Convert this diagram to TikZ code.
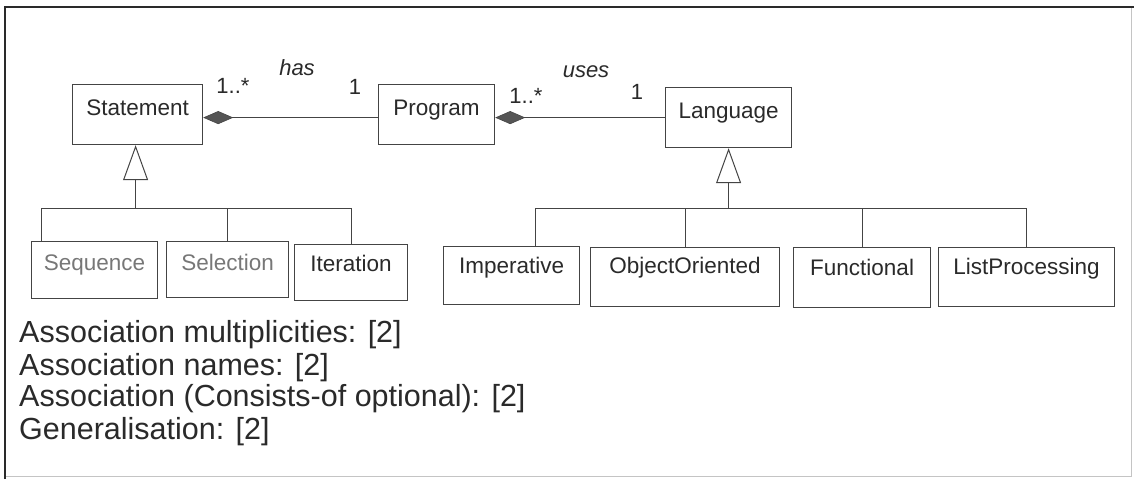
\documentclass[tikz,border=0pt]{standalone}
\usepackage{fontspec}
\setmainfont{Liberation Sans}
\usetikzlibrary{arrows.meta}
\definecolor{ink}{HTML}{2A2A2A}
\definecolor{edge}{HTML}{444444}
\definecolor{faded}{HTML}{777777}
\definecolor{diam}{HTML}{555555}
\definecolor{rim}{HTML}{C4C4C4}
\tikzset{
  cls/.style={draw=edge, line width=1.2pt, rectangle, anchor=north west,
    inner xsep=0pt, inner ysep=0pt, align=center, text=ink,
    font=\fontsize{22.5}{26}\selectfont},
  dim/.style={text=faded},
  conn/.style={draw=edge, line width=1.1pt},
  compo/.style={conn, {Diamond[length=30pt, width=13pt, fill=diam, line width=0.6pt]}-},
  gen/.style={conn, {Triangle[open, length=35pt, width=25pt, fill=white, line width=1pt]}-},
  mult/.style={text=ink, font=\fontsize{22}{26}\selectfont, inner sep=0pt},
  aname/.style={text=ink, font=\fontsize{22}{26}\selectfont\itshape, inner sep=0pt},
  marks/.style={text=ink, font=\fontsize{30.5}{33}\selectfont, inner sep=0pt, anchor=base west}
}
\begin{document}
\begin{tikzpicture}[x=1pt, y=-1pt]
\useasboundingbox (0,0) rectangle (1134,479);
\fill[white] (0,0) rectangle (1134,479);
% frame
\draw[rim, line width=1pt] (1131,7) -- (1131,476) -- (5,476);
\draw[ink, line width=2pt] (5,479) -- (5,7) -- (1134,7);

% classes
\node[cls, minimum width=130pt, text height=31pt, text depth=29pt] (stmt) at (72,84) {Statement};
\node[cls, minimum width=116pt, text height=31pt, text depth=29pt] (prog) at (378,84) {Program};
\node[cls, minimum width=126pt, text height=31pt, text depth=29pt] (lang) at (665,87) {Language};

\node[cls, dim, minimum width=126pt, text height=29pt, text depth=28pt] (seq) at (31,241) {Sequence};
\node[cls, dim, minimum width=122pt, text height=29pt, text depth=27pt] (sel) at (166,241) {Selection};
\node[cls, minimum width=113pt, text height=27pt, text depth=29pt] (iter) at (294,244) {Iteration};

\node[cls, minimum width=136pt, text height=27pt, text depth=31pt] (imp) at (443,246) {Imperative};
\node[cls, minimum width=189pt, text height=26pt, text depth=33pt] (oo) at (590,247) {ObjectOriented};
\node[cls, minimum width=137pt, text height=28pt, text depth=32pt] (fun) at (793,247) {Functional};
\node[cls, minimum width=176pt, text height=27pt, text depth=32pt] (lp) at (938,247) {ListProcessing};

% compositions
\draw[compo] ([yshift=-3pt]stmt.east) -- ([yshift=-3pt]stmt.east -| prog.west);
\draw[compo] ([yshift=-3pt]prog.east) -- ([yshift=-3pt]prog.east -| lang.west);

% association labels
\node[mult] (m1) at (233,86) {1..*};
\node[aname] (has) at (297,68) {has};
\node[mult] (m2) at (355,87) {1};
\node[mult] (m3) at (526,96) {1..*};
\node[aname] (uses) at (586,72) {uses};
\node[mult] (m4) at (637,92) {1};

% generalisation of Statement
\coordinate (sbus) at ([xshift=-2pt, yshift=-63pt]stmt.south);
\draw[gen] ([xshift=-2pt]stmt.south) -- (sbus);
\draw[conn] (sbus) -| ([xshift=-53pt]seq.north);
\draw[conn] (sbus) -| (sel.north);
\draw[conn] (sbus) -| (iter.north);

% generalisation of Language
\coordinate (lbus) at (lang.south |- sbus);
\draw[gen] (lang.south) -- (lbus);
\draw[conn] (lbus) -| ([xshift=24pt]imp.north);
\draw[conn] (lbus) -| (oo.north);
\draw[conn] (lbus) -| (fun.north);
\draw[conn] (lbus) -| (lp.north);

% marking scheme
\node[marks] (t1) at (19,342) {Association multiplicities: [2]};
\node[marks] (t2) at (19,375) {Association names: [2]};
\node[marks] (t3) at (19,406) {Association (Consists-of optional): [2]};
\node[marks] (t4) at (19,439) {Generalisation: [2]};
\end{tikzpicture}
\end{document}
